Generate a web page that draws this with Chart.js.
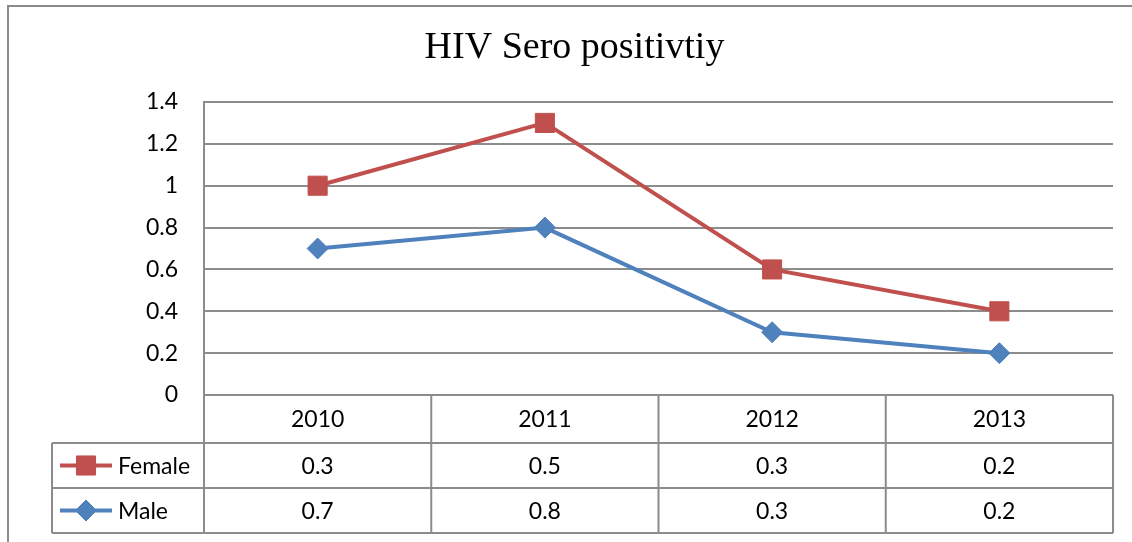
<!DOCTYPE html>
<html>
<head>
<meta charset="utf-8">
<title>HIV Sero positivtiy</title>
<script src="https://cdn.jsdelivr.net/npm/chart.js@4.4.1/dist/chart.umd.min.js"></script>
<style>
    html, body { margin: 0; padding: 0; background: #fff; overflow: hidden; }
    #chart { display: block; }
</style>
</head>
<body>
<canvas id="chart" width="1132" height="542"></canvas>
<script>
// chart data
const years = ['2010', '2011', '2012', '2013'];
const femaleValues = [0.3, 0.5, 0.3, 0.2];
const maleValues = [0.7, 0.8, 0.3, 0.2];
const yTicks = [0, 0.2, 0.4, 0.6, 0.8, 1, 1.2, 1.4];

const RED = '#C0504D';
const BLUE = '#4F81BD';
const GRID = '#8c8c8c';
const TEXT_FONT = '23px Lato, "Open Sans", sans-serif';

// rows shown in the data table under the plot, top to bottom
const tableRows = [
    { label: 'Female', values: femaleValues, color: RED, style: 'rect', radius: 13.5 },
    { label: 'Male', values: maleValues, color: BLUE, style: 'rectRot', radius: 10.5 }
];

// outer frame of the chart object (only top and left edges are in view)
const framePlugin = {
    id: 'frame',
    beforeDraw(chart) {
        const ctx = chart.ctx;
        ctx.save();
        ctx.strokeStyle = '#8a8a8a';
        ctx.lineWidth = 2;
        ctx.beginPath();
        ctx.moveTo(8, chart.height);
        ctx.lineTo(8, 6);
        ctx.lineTo(chart.width, 6);
        ctx.stroke();
        ctx.restore();
    }
};

// Excel style data table with legend keys
const dataTablePlugin = {
    id: 'dataTable',
    afterDraw(chart) {
        const ctx = chart.ctx;
        const area = chart.chartArea;
        const x = chart.scales.x;
        const colW = x.getPixelForValue(1) - x.getPixelForValue(0);
        const headerH = 48;
        const rowH = 45;
        const legendLeft = 52;
        const top = area.bottom;
        const rowsTop = top + headerH;
        const bottom = rowsTop + rowH * tableRows.length;

        ctx.save();
        ctx.strokeStyle = GRID;
        ctx.lineWidth = 2;
        ctx.beginPath();
        // horizontal lines
        ctx.moveTo(area.left, top); ctx.lineTo(area.right, top);
        for (let r = 0; r <= tableRows.length; r++) {
            const y = rowsTop + r * rowH;
            ctx.moveTo(legendLeft, y); ctx.lineTo(area.right, y);
        }
        // vertical lines
        ctx.moveTo(legendLeft, rowsTop); ctx.lineTo(legendLeft, bottom);
        for (let i = 0; i <= years.length; i++) {
            const px = x.getPixelForValue(0) - colW / 2 + i * colW;
            ctx.moveTo(px, top); ctx.lineTo(px, bottom);
        }
        ctx.stroke();

        ctx.fillStyle = '#000';
        ctx.font = TEXT_FONT;
        ctx.textAlign = 'center';
        ctx.textBaseline = 'middle';
        years.forEach((yr, i) => {
            ctx.fillText(yr, x.getPixelForValue(i), top + headerH / 2 + 1);
        });

        tableRows.forEach((row, r) => {
            const cy = rowsTop + r * rowH + rowH / 2;
            row.values.forEach((v, i) => {
                ctx.fillStyle = '#000';
                ctx.fillText(String(v), x.getPixelForValue(i), cy + 1);
            });
            // legend key
            ctx.strokeStyle = row.color;
            ctx.fillStyle = row.color;
            ctx.lineWidth = 4;
            ctx.beginPath();
            ctx.moveTo(60, cy); ctx.lineTo(112, cy);
            ctx.stroke();
            ctx.lineWidth = 1;
            Chart.helpers.drawPoint(ctx, { pointStyle: row.style, radius: row.radius, rotation: 0, borderWidth: 1 }, 86, cy);
            ctx.fillStyle = '#000';
            ctx.textAlign = 'left';
            ctx.fillText(row.label, 118, cy + 1);
            ctx.textAlign = 'center';
        });
        ctx.restore();
    }
};

const ctx = document.getElementById('chart').getContext('2d');
new Chart(ctx, {
    type: 'line',
    data: {
        labels: years,
        datasets: [
            {
                label: 'Male',
                data: maleValues,
                borderColor: BLUE,
                backgroundColor: BLUE,
                borderWidth: 4,
                pointStyle: 'rectRot',
                pointRadius: 10.5,
                pointBorderWidth: 1,
                pointBackgroundColor: BLUE,
                pointBorderColor: BLUE,
                tension: 0
            },
            {
                label: 'Female',
                data: femaleValues,
                borderColor: RED,
                backgroundColor: RED,
                borderWidth: 4,
                pointStyle: 'rect',
                pointRadius: 13.5,
                pointBorderWidth: 1,
                pointBackgroundColor: RED,
                pointBorderColor: RED,
                tension: 0
            }
        ]
    },
    options: {
        responsive: false,
        animation: false,
        devicePixelRatio: 1,
        layout: {
            padding: { left: 36, right: 19, top: 0, bottom: 0 }
        },
        plugins: {
            legend: { display: false },
            tooltip: { enabled: false },
            title: {
                display: true,
                text: 'HIV Sero positivtiy',
                color: '#000',
                font: { family: '"Liberation Serif", "Times New Roman", serif', size: 38, weight: 'normal', lineHeight: 1.2 },
                padding: { top: 25, bottom: 31.4 }
            }
        },
        scales: {
            x: {
                offset: true,
                grid: { display: false },
                border: { display: false },
                ticks: { display: false },
                afterFit(scale) { scale.height = 147; }
            },
            y: {
                stacked: true,
                min: 0,
                max: 1.4,
                afterBuildTicks(scale) {
                    scale.ticks = yTicks.map(v => ({ value: v }));
                },
                ticks: {
                    color: '#000',
                    padding: 26,
                    font: { family: 'Lato, "Open Sans", sans-serif', size: 23 },
                    callback: (v) => String(Math.round(v * 10) / 10)
                },
                grid: { color: GRID, lineWidth: 2, drawTicks: false },
                border: { color: GRID, width: 2 },
                afterFit(scale) { scale.width = 168; }
            }
        }
    },
    plugins: [framePlugin, dataTablePlugin]
});
</script>
</body>
</html>
